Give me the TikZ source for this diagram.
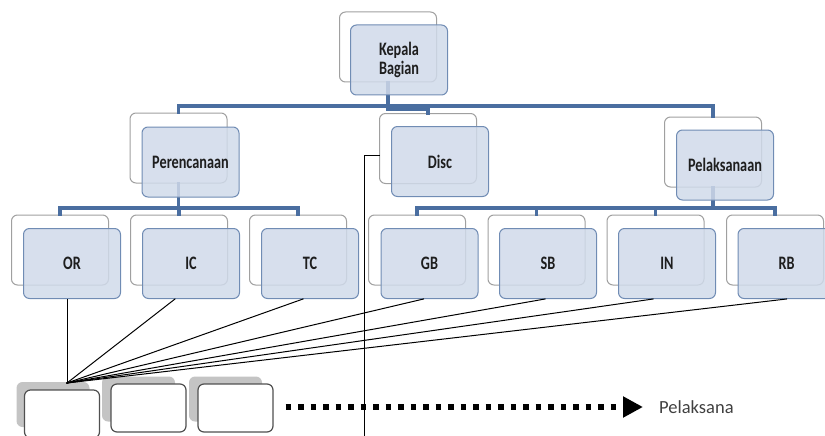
\documentclass[tikz,border=0pt]{standalone}
\usepackage{fontspec}
\setmainfont{Carlito}
\newfontfamily\orgfont{Carlito}[FakeStretch=0.75]
\usetikzlibrary{arrows.meta}

\tikzset{
	backbox/.style={draw=custcol_a0_a0_a0, fill=white, rounded corners=6pt, minimum width=97pt, minimum height=70pt, line width=1pt},
	frontbox/.style={draw=custcol_70_8c_b4, fill=custcol_d0_da_ea, fill opacity=0.85, text opacity=1, rounded corners=6pt, minimum width=97pt, minimum height=70pt, line width=1pt, text=custcol_1e_1e_1e, align=center, font=\orgfont\bfseries\fontsize{19pt}{19pt}\selectfont},
	bus/.style={line width=3.2pt, custcol_4a_6e_a0},
	fan/.style={line width=1pt, black},
	lowshadow/.style={fill=custcol_c4_c4_c4, rounded corners=6pt, minimum width=73pt, minimum height=45pt, inner sep=0},
	lowbox/.style={draw=custcol_50_50_50, fill=white, rounded corners=6pt, minimum width=75pt, minimum height=48pt, line width=1.2pt, inner sep=0},
	dotline/.style={line width=5.5pt, line cap=butt, dash pattern=on 5.5pt off 7pt, -{Triangle[length=20pt,width=20pt]}}
}

\begin{document}
\begin{tikzpicture}[x=1pt,y=-1pt,line cap=rect]
	\definecolor{custcol_a0_a0_a0}{RGB}{160, 160, 160}
	\definecolor{custcol_70_8c_b4}{RGB}{112, 140, 180}
	\definecolor{custcol_d0_da_ea}{RGB}{208, 218, 234}
	\definecolor{custcol_1e_1e_1e}{RGB}{30, 30, 30}
	\definecolor{custcol_4a_6e_a0}{RGB}{74, 110, 160}
	\definecolor{custcol_c4_c4_c4}{RGB}{196, 196, 196}
	\definecolor{custcol_50_50_50}{RGB}{80, 80, 80}
	\definecolor{custcol_40_40_40}{RGB}{64, 64, 64}
	\useasboundingbox (0,0) rectangle (825,436);
	\clip (0,0) rectangle (825,436);
	% back boxes
	\node[backbox] (bkep) at (388,47) {};
	\node[backbox] (bper) at (178.5,148) {};
	\node[backbox] (bdisc) at (428,148.5) {};
	\node[backbox] (bpel) at (713,152) {};
	\foreach \c/\bx in {or/60,ic/179,tc/298,gb/417,sb/536.5,inn/655.5,rb/775}
		\node[backbox] (b\c) at (\bx,250) {};
	% bus lines
	\coordinate (busA) at (0,106);
	\coordinate (busB) at (0,109);
	\coordinate (busC) at (0,208);
	\draw[bus] (bkep.south) -- (bkep.south |- busA) -| (bper.north);
	\draw[bus] (bkep.south) -- (bkep.south |- busB) -| (bdisc.north);
	\draw[bus] (bkep.south) -- (bkep.south |- busA) -| (bpel.north);
	\foreach \c in {or,ic,tc}
		\draw[bus] (bper.south) -- (bper.south |- busC) -| (b\c.north);
	\foreach \c in {gb,sb,inn,rb}
		\draw[bus] (bpel.south) -- (bpel.south |- busC) -| (b\c.north);
	% front boxes
	\node[frontbox] (kep) at (399,60) {Kepala\\Bagian};
	\node[frontbox] (per) at (190.5,162) {Perencanaan};
	\node[frontbox] (disc) at (440,161.5) {Disc};
	\node[frontbox] (pel) at (725,165) {Pelaksanaan};
	\foreach \c/\fx/\lbl in {or/72/OR,ic/191/IC,tc/310/TC,gb/429.5/GB,sb/548/SB,inn/667/IN,rb/786.5/RB}
		\node[frontbox] (\c) at (\fx,263.5) {\lbl};
	% bottom row
	\node[lowshadow] (s1) at (53,404.5) {};
	\node[lowbox] (w1) at (62,414) {};
	\node[lowshadow] (s2) at (138.5,399) {};
	\node[lowbox] (w2) at (148.5,408) {};
	\node[lowshadow] (s3) at (225.5,399) {};
	\node[lowbox] (w3) at (235.5,408) {};
	% fan lines
	\coordinate (fanpt) at (67,383);
	\foreach \c/\dx in {or/-5,ic/-16,tc/-7,gb/-6,sb/-3,inn/-14,rb/0}
		\draw[fan] (fanpt) -- ([xshift=\dx pt]\c.south);
	\coordinate (discdrop) at (364,436);
	\draw[fan] ([yshift=-6.5pt]bdisc.west) -| (discdrop);
	% arrow
	\node[inner sep=0, anchor=west, text=custcol_40_40_40, font=\fontsize{18.5pt}{18.5pt}\selectfont] (plk) at (659,407) {Pelaksana};
	\draw[dotline] ([xshift=12pt]w3.east |- plk.west) -- ([xshift=-16pt]plk.west);
\end{tikzpicture}
\end{document}
